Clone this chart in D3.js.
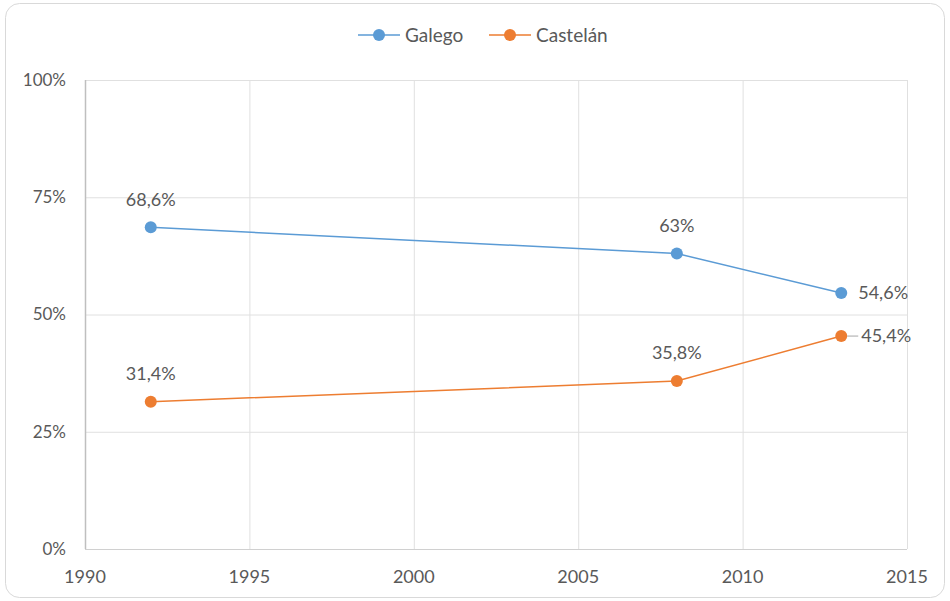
<!DOCTYPE html>
<html>
<head>
<meta charset="utf-8">
<title>Galego e castelán</title>
<script src="https://cdnjs.cloudflare.com/ajax/libs/d3/7.8.5/d3.min.js"></script>
<style>
  body { margin: 0; background: #fff; }
  text { font-family: Lato, "Open Sans", sans-serif; fill: #595959; }
</style>
</head>
<body>
<script>
var years = [1992, 2008, 2013];
var galego = [68.6, 63, 54.6];
var castelan = [31.4, 35.8, 45.4];
var seriesNames = ["Galego", "Castelán"];
var labelsGalego = ["68,6%", "63%", "54,6%"];
var labelsCastelan = ["31,4%", "35,8%", "45,4%"];
var xTicks = [1990, 1995, 2000, 2005, 2010, 2015];
var yTicks = [0, 25, 50, 75, 100];

var W = 950, H = 601;
var colors = ["#5b9bd5", "#ed7d31"];

var svg = d3.select("body").append("svg")
    .attr("width", W)
    .attr("height", H);

// chart border
svg.append("rect")
    .attr("x", 5.5).attr("y", 3.5)
    .attr("width", W - 11).attr("height", H - 7)
    .attr("rx", 14)
    .attr("fill", "#fff")
    .attr("stroke", "#d9d9d9");

var x = d3.scaleLinear().domain([1990, 2015]).range([85, 907]);
var y = d3.scaleLinear().domain([0, 100]).range([549, 80]);

// gridlines
svg.selectAll(".hgrid").data(yTicks).enter().append("line")
    .attr("x1", x(1990)).attr("x2", x(2015))
    .attr("y1", function(d){ return y(d) + 0.5; })
    .attr("y2", function(d){ return y(d) + 0.5; })
    .attr("stroke", "#e0e0e0");
svg.selectAll(".vgrid").data(xTicks).enter().append("line")
    .attr("x1", function(d){ return x(d) + 0.5; })
    .attr("x2", function(d){ return x(d) + 0.5; })
    .attr("y1", y(100)).attr("y2", y(0))
    .attr("stroke", "#e0e0e0");

// axis lines
svg.append("line")
    .attr("x1", x(1990) + 0.5).attr("x2", x(1990) + 0.5)
    .attr("y1", y(100)).attr("y2", y(0))
    .attr("stroke", "#bfbfbf").attr("stroke-width", 1.5);
svg.append("line")
    .attr("x1", x(1990)).attr("x2", x(2015))
    .attr("y1", y(0) + 0.5).attr("y2", y(0) + 0.5)
    .attr("stroke", "#d0d0d0");

// tick labels
svg.selectAll(".ylab").data(yTicks).enter().append("text")
    .attr("x", 66)
    .attr("y", function(d){ return y(d); })
    .attr("dy", "0.35em")
    .attr("text-anchor", "end")
    .style("font-size", "17px")
    .text(function(d){ return d + "%"; });
svg.selectAll(".xlab").data(xTicks).enter().append("text")
    .attr("x", function(d){ return x(d); })
    .attr("y", 577)
    .attr("dy", "0.35em")
    .attr("text-anchor", "middle")
    .style("font-size", "18px")
    .text(function(d){ return d; });

var line = d3.line()
    .x(function(d){ return x(d[0]); })
    .y(function(d){ return y(d[1]); });

var data = [galego, castelan];
var labels = [labelsGalego, labelsCastelan];

data.forEach(function(vals, s) {
  var pts = years.map(function(yr, i){ return [yr, vals[i]]; });
  svg.append("path")
      .attr("d", line(pts))
      .attr("fill", "none")
      .attr("stroke", colors[s])
      .attr("stroke-width", 1.5);
  svg.selectAll(".dot" + s).data(pts).enter().append("circle")
      .attr("cx", function(d){ return x(d[0]); })
      .attr("cy", function(d){ return y(d[1]); })
      .attr("r", 6)
      .attr("fill", colors[s]);
  svg.selectAll(".lab" + s).data(pts).enter().append("text")
      .attr("x", function(d, i){ return i == 2 ? x(d[0]) + (s == 0 ? 17 : 20) : x(d[0]); })
      .attr("y", function(d, i){ return i == 2 ? y(d[1]) : y(d[1]) - 28; })
      .attr("dy", "0.35em")
      .attr("text-anchor", function(d, i){ return i == 2 ? "start" : "middle"; })
      .style("font-size", "18px")
      .text(function(d, i){ return labels[s][i]; });
});

// small leader for 45,4%
svg.append("line")
    .attr("x1", x(2013) + 6).attr("x2", x(2013) + 17)
    .attr("y1", y(castelan[2])).attr("y2", y(castelan[2]))
    .attr("stroke", "#a6a6a6");

// legend
var legX = [358, 489];
seriesNames.forEach(function(name, s) {
  var g = svg.append("g").attr("transform", "translate(" + legX[s] + ",35)");
  g.append("line").attr("x1", 0).attr("x2", 42).attr("y1", 0).attr("y2", 0)
      .attr("stroke", colors[s]).attr("stroke-width", 1.5);
  g.append("circle").attr("cx", 21).attr("cy", 0).attr("r", 6).attr("fill", colors[s]);
  g.append("text").attr("x", 47).attr("y", 0).attr("dy", "0.35em")
      .style("font-size", "19px").text(name);
});
</script>
</body>
</html>
